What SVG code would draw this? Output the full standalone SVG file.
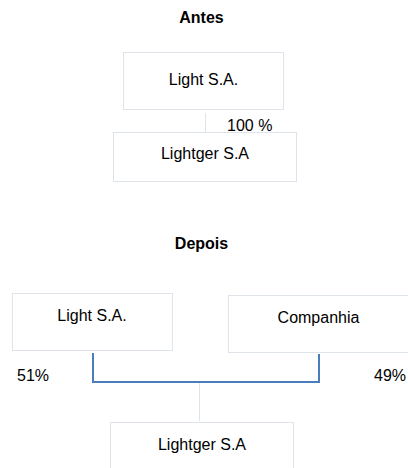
<svg xmlns="http://www.w3.org/2000/svg" width="408" height="468" viewBox="0 0 408 468">
<style>
.box{fill:#ffffff;stroke:#dfe3ea;stroke-width:1}
.t{font-family:"Liberation Sans",Arial,sans-serif;font-size:16px;fill:#000}
.m{text-anchor:middle}
.b{font-weight:bold}
.thin{stroke:#dfe3ea;stroke-width:1;fill:none}
.blue{stroke:#4a7ebb;stroke-width:2;fill:none}
</style>
<rect width="408" height="468" fill="#ffffff"/>
<text class="t m b" x="201.5" y="23">Antes</text>
<text class="t m b" x="201.5" y="249">Depois</text>
<g id="connectors">
<line class="thin" x1="205.5" y1="113" x2="205.5" y2="132"/>
<polyline class="blue" points="93,353 93,382 319,382 319,354"/>
<line class="thin" x1="199.5" y1="383" x2="199.5" y2="421"/>
</g>
<g id="antes-light">
<rect class="box" x="123.5" y="52.5" width="160" height="57"/>
<text class="t m" x="203.5" y="85">Light S.A.</text>
</g>
<text class="t" x="227" y="131">100 %</text>
<g id="antes-lightger">
<rect class="box" x="113.5" y="132.5" width="183" height="49"/>
<text class="t m" x="205" y="159">Lightger S.A</text>
</g>
<g id="depois-light">
<rect class="box" x="12.5" y="293.5" width="160" height="57"/>
<text class="t m" x="92" y="321">Light S.A.</text>
</g>
<g id="depois-companhia">
<rect class="box" x="228.5" y="295.5" width="190" height="57"/>
<text class="t m" x="318.5" y="323">Companhia</text>
</g>
<text class="t" x="17" y="381">51%</text>
<text class="t" x="374" y="381">49%</text>
<g id="depois-lightger">
<rect class="box" x="110.5" y="422.5" width="183" height="60"/>
<text class="t m" x="202" y="450">Lightger S.A</text>
</g>
</svg>
